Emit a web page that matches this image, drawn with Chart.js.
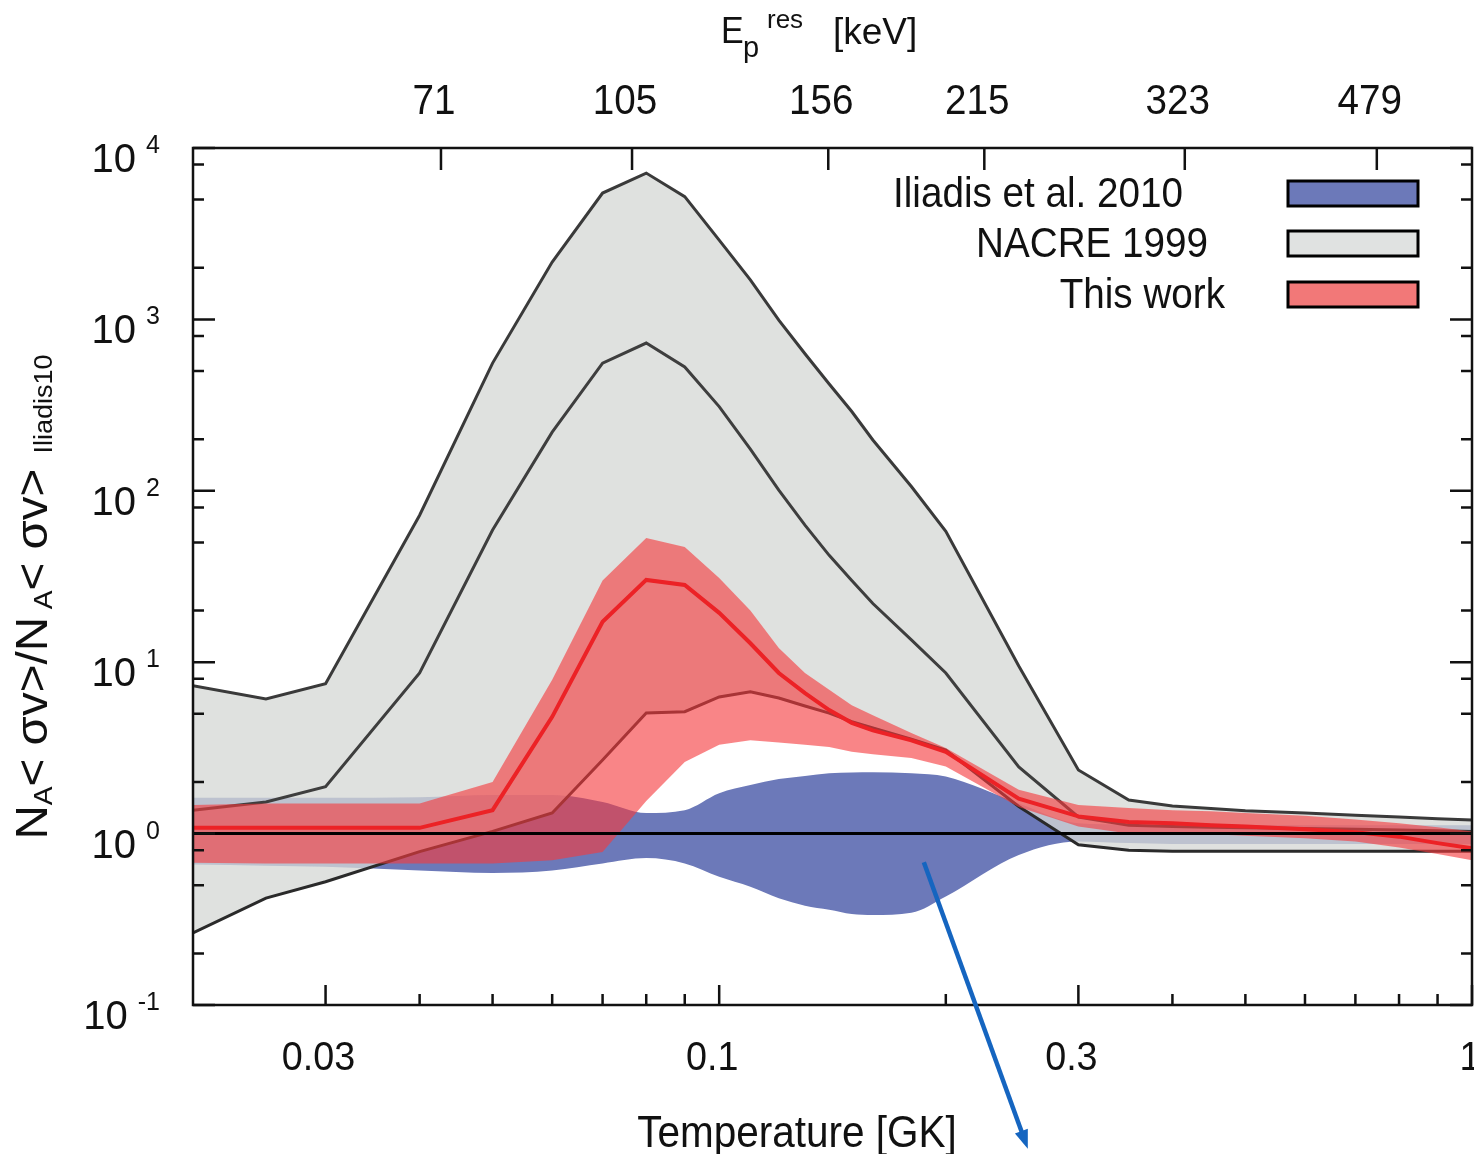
<!DOCTYPE html>
<html>
<head>
<meta charset="utf-8">
<script src="https://cdn.jsdelivr.net/npm/chart.js@4.4.1/dist/chart.umd.min.js"></script>
<style>
  html, body { margin: 0; padding: 0; background: #fff; }
  #wrap { width: 1474px; height: 1154px; }
</style>
</head>
<body>
<div id="wrap"><canvas id="rateChart" width="1474" height="1154"></canvas></div>
<script>
// temperature grid [GK]
const temps = [0.02, 0.025, 0.03, 0.04, 0.05, 0.06, 0.07, 0.08, 0.09, 0.1, 0.11, 0.12, 0.13, 0.14, 0.15, 0.16, 0.18, 0.2, 0.25, 0.3, 0.35, 0.4, 0.45, 0.5, 0.6, 0.7, 0.8, 0.9, 1.0];

// Iliadis et al. 2010 band (ratio to its own recommended rate)
const iliadisHigh = [1.62, 1.62, 1.62, 1.63, 1.68, 1.68, 1.53, 1.32, 1.37, 1.72, 1.92, 2.08, 2.17, 2.25, 2.27, 2.28, 2.25, 2.15, 1.5, 1.15, 1.13, 1.12, 1.12, 1.12, 1.12, 1.12, 1.12, 1.12, 1.12];
const iliadisLow = [0.66, 0.65, 0.64, 0.61, 0.59, 0.61, 0.67, 0.72, 0.67, 0.56, 0.49, 0.42, 0.38, 0.36, 0.34, 0.335, 0.345, 0.43, 0.75, 0.9, 0.88, 0.87, 0.87, 0.87, 0.87, 0.87, 0.87, 0.87, 0.87];

// NACRE 1999
const nacreHigh = [7.3, 6.1, 7.5, 72, 556, 2160, 5460, 7140, 5200, 2900, 1700, 990, 630, 420, 290, 198, 106, 58, 9.5, 2.35, 1.57, 1.45, 1.40, 1.36, 1.32, 1.28, 1.25, 1.22, 1.2];
const nacreRec = [1.37, 1.53, 1.88, 8.65, 59, 220, 556, 728, 528, 310, 175, 101, 63, 42, 30, 22, 13.5, 8.65, 2.45, 1.25, 1.12, 1.1, 1.09, 1.08, 1.07, 1.06, 1.05, 1.04, 1.03];
const nacreLow = [0.263, 0.42, 0.524, 0.785, 1.03, 1.32, 2.69, 5.06, 5.14, 6.27, 6.73, 6.18, 5.55, 5.05, 4.5, 4.13, 3.56, 3.07, 1.44, 0.86, 0.8, 0.79, 0.79, 0.79, 0.79, 0.79, 0.79, 0.79, 0.79];

// This work
const workHigh = [1.47, 1.5, 1.5, 1.5, 2.0, 7.9, 30, 53, 47, 31, 20, 12.1, 8.65, 6.9, 5.6, 4.9, 3.86, 3.16, 1.8, 1.47, 1.41, 1.37, 1.35, 1.32, 1.27, 1.21, 1.15, 1.09, 1.03];
const workRec = [1.08, 1.08, 1.08, 1.08, 1.37, 4.8, 17.2, 30.2, 28.2, 19.4, 12.9, 8.65, 6.6, 5.26, 4.43, 4.0, 3.5, 3.0, 1.6, 1.26, 1.17, 1.15, 1.12, 1.1, 1.06, 1.02, 0.96, 0.88, 0.82];
const workLow = [0.675, 0.67, 0.67, 0.67, 0.67, 0.70, 0.78, 1.55, 2.62, 3.3, 3.5, 3.4, 3.3, 3.2, 3.0, 2.9, 2.76, 2.46, 1.43, 1.1, 1.0, 1.0, 0.99, 0.97, 0.94, 0.9, 0.83, 0.76, 0.7];

// axes
const xMajorTicks = [0.03, 0.1, 0.3, 1];
const xMajorLabels = ['0.03', '0.1', '0.3', '1'];
const xMinorTicks = [0.04, 0.05, 0.06, 0.07, 0.08, 0.09, 0.2, 0.4, 0.5, 0.6, 0.7, 0.8, 0.9];
const energyTemps = [0.0427, 0.0766, 0.1396, 0.225, 0.4154, 0.7474];
const energyLabels = ['71', '105', '156', '215', '323', '479'];
const yDecades = [-1, 0, 1, 2, 3, 4];
const yMinorTicks = [0.2, 0.5, 0.8, 2, 5, 8, 20, 50, 80, 200, 500, 800, 2000, 5000, 8000];

const legendLabels = ['Iliadis et al. 2010', 'NACRE 1999', 'This work'];
const legendColors = ['rgb(108,121,185)', 'rgb(224,226,225)', 'rgb(242,120,120)'];

// blue arrow, in data coordinates (T, ratio)
const arrowFrom = [0.187, 0.68];
const arrowTo = [0.257, 0.0145];

const pts = arr => temps.map((t, i) => ({ x: t, y: arr[i] }));
const FONT = '"Liberation Sans", Arial, sans-serif';

function txt(ctx, s, x, y, size, align, sx) {
  ctx.save();
  ctx.font = size + 'px ' + FONT;
  ctx.translate(x, y);
  ctx.scale(sx || 0.92, 1);
  ctx.textAlign = align || 'left';
  ctx.textBaseline = 'alphabetic';
  ctx.fillText(s, 0, 0);
  ctx.restore();
}
function txtWidth(ctx, s, size, sx) {
  ctx.save();
  ctx.font = size + 'px ' + FONT;
  const w = ctx.measureText(s).width * (sx || 0.92);
  ctx.restore();
  return w;
}

const decorations = {
  id: 'decorations',
  afterDraw(chart) {
    const ctx = chart.ctx;
    const a = chart.chartArea;
    const xs = chart.scales.x, ys = chart.scales.y;
    ctx.save();
    ctx.fillStyle = '#111';
    ctx.strokeStyle = '#111';

    // frame
    ctx.lineWidth = 2.5;
    ctx.strokeRect(a.left, a.top, a.right - a.left, a.bottom - a.top);

    // bottom ticks (inward)
    ctx.beginPath();
    xMajorTicks.forEach(v => { const p = xs.getPixelForValue(v); ctx.moveTo(p, a.bottom); ctx.lineTo(p, a.bottom - 20); });
    xMinorTicks.forEach(v => { const p = xs.getPixelForValue(v); ctx.moveTo(p, a.bottom); ctx.lineTo(p, a.bottom - 11); });
    // top ticks at resonance energies
    energyTemps.forEach(v => { const p = xs.getPixelForValue(v); ctx.moveTo(p, a.top); ctx.lineTo(p, a.top + 22); });
    // y ticks both sides
    yDecades.forEach(e => {
      const p = ys.getPixelForValue(Math.pow(10, e));
      ctx.moveTo(a.left, p); ctx.lineTo(a.left + 22, p);
      ctx.moveTo(a.right, p); ctx.lineTo(a.right - 22, p);
    });
    yMinorTicks.forEach(v => {
      const p = ys.getPixelForValue(v);
      ctx.moveTo(a.left, p); ctx.lineTo(a.left + 11, p);
      ctx.moveTo(a.right, p); ctx.lineTo(a.right - 11, p);
    });
    ctx.stroke();

    // bottom tick labels
    xMajorTicks.forEach((v, i) => txt(ctx, xMajorLabels[i], xs.getPixelForValue(v) - (i === 3 ? 2 : 7), 1070, 41, 'center'));
    // top tick labels
    energyTemps.forEach((v, i) => txt(ctx, energyLabels[i], xs.getPixelForValue(v) - 7, 114, 42, 'center'));

    // y tick labels 10^n
    yDecades.forEach(e => {
      const p = ys.getPixelForValue(Math.pow(10, e));
      const ex = String(e);
      const ew = txtWidth(ctx, ex, 25, 1);
      const expLeft = 160 - ew;
      txt(ctx, ex, expLeft, p + 5, 25, 'left', 1);
      txt(ctx, '10', expLeft - 10, p + 24, 40, 'right', 1);
    });

    // x title
    txt(ctx, 'Temperature [GK]', 797, 1147, 44, 'center');

    // top title E_p^res [keV]
    txt(ctx, 'E', 721, 43, 37, 'left', 0.92);
    txt(ctx, 'p', 743, 57, 29, 'left', 1);
    txt(ctx, 'res', 767, 28, 26, 'left', 1);
    txt(ctx, '[keV]', 833, 44, 37, 'left', 1);

    // y title (rotated)
    const parts = [
      { t: 'N', s: 44, dy: 0 }, { t: 'A', s: 26, dy: 5 },
      { t: '< σv>/N', s: 44, dy: 0 }, { t: ' A', s: 26, dy: 5 },
      { t: '< σv>', s: 44, dy: 0 }, { t: '  Iliadis10', s: 25, dy: 5 }
    ];
    let total = 0;
    parts.forEach(pt => { pt.w = txtWidth(ctx, pt.t, pt.s, 1); total += pt.w; });
    const sxT = 485 / total;
    ctx.save();
    ctx.translate(47, 597);
    ctx.rotate(-Math.PI / 2);
    let cx = -total * sxT / 2;
    parts.forEach(pt => { txt(ctx, pt.t, cx, pt.dy, pt.s, 'left', sxT); cx += pt.w * sxT; });
    ctx.restore();

    // legend
    const textRight = [1183, 1208, 1225];
    const boxTop = [181, 231, 282];
    legendLabels.forEach((lab, i) => {
      txt(ctx, lab, textRight[i], boxTop[i] + 26, 42, 'right');
      ctx.fillStyle = legendColors[i];
      ctx.fillRect(1288, boxTop[i], 130, 25);
      ctx.lineWidth = 3;
      ctx.strokeStyle = '#000';
      ctx.strokeRect(1288, boxTop[i], 130, 25);
      ctx.fillStyle = '#111';
    });

    // arrow
    const x0 = xs.getPixelForValue(arrowFrom[0]), y0 = ys.getPixelForValue(arrowFrom[1]);
    const x1 = xs.getPixelForValue(arrowTo[0]), y1 = ys.getPixelForValue(arrowTo[1]);
    const ang = Math.atan2(y1 - y0, x1 - x0);
    ctx.strokeStyle = 'rgb(21,101,192)';
    ctx.fillStyle = 'rgb(21,101,192)';
    ctx.lineWidth = 4.5;
    ctx.beginPath();
    ctx.moveTo(x0, y0);
    ctx.lineTo(x1 - 14 * Math.cos(ang), y1 - 14 * Math.sin(ang));
    ctx.stroke();
    ctx.beginPath();
    ctx.moveTo(x1, y1);
    ctx.lineTo(x1 - 20 * Math.cos(ang - 0.35), y1 - 20 * Math.sin(ang - 0.35));
    ctx.lineTo(x1 - 20 * Math.cos(ang + 0.35), y1 - 20 * Math.sin(ang + 0.35));
    ctx.closePath();
    ctx.fill();
    ctx.restore();
  }
};

const noLine = 'rgba(0,0,0,0)';

new Chart(document.getElementById('rateChart'), {
  type: 'line',
  data: {
    datasets: [
      { label: 'Iliadis et al. 2010', data: pts(iliadisHigh), fill: 1, backgroundColor: 'rgb(108,121,185)', borderColor: noLine, borderWidth: 0, pointRadius: 0, cubicInterpolationMode: 'monotone', order: 10 },
      { data: pts(iliadisLow), fill: false, borderColor: noLine, borderWidth: 0, pointRadius: 0, cubicInterpolationMode: 'monotone', order: 10 },
      { label: 'NACRE 1999', data: pts(nacreHigh), fill: 4, backgroundColor: 'rgba(213,216,214,0.77)', borderColor: '#3a3a3a', borderWidth: 3, pointRadius: 0, order: 8 },
      { data: pts(nacreRec), fill: false, borderColor: '#3e3e3e', borderWidth: 3, pointRadius: 0, order: 7 },
      { data: pts(nacreLow), fill: false, borderColor: '#2a2a2a', borderWidth: 3, pointRadius: 0, order: 7 },
      { label: 'This work', data: pts(workHigh), fill: 7, backgroundColor: 'rgba(245,58,62,0.62)', borderColor: noLine, borderWidth: 0, pointRadius: 0, order: 5 },
      { data: pts(workRec), fill: false, borderColor: 'rgb(236,34,38)', borderWidth: 4, pointRadius: 0, order: 4 },
      { data: pts(workLow), fill: false, borderColor: noLine, borderWidth: 0, pointRadius: 0, order: 5 },
      { data: [{ x: 0.02, y: 1 }, { x: 1, y: 1 }], fill: false, borderColor: '#000', borderWidth: 3, pointRadius: 0, order: 1 }
    ]
  },
  options: {
    responsive: false,
    animation: false,
    devicePixelRatio: 1,
    layout: { padding: { left: 193, right: 2, top: 148, bottom: 149 } },
    plugins: { legend: { display: false }, tooltip: { enabled: false } },
    scales: {
      x: { type: 'logarithmic', min: 0.02, max: 1, display: false },
      y: { type: 'logarithmic', min: 0.1, max: 10000, display: false }
    }
  },
  plugins: [decorations]
});
</script>
</body>
</html>
